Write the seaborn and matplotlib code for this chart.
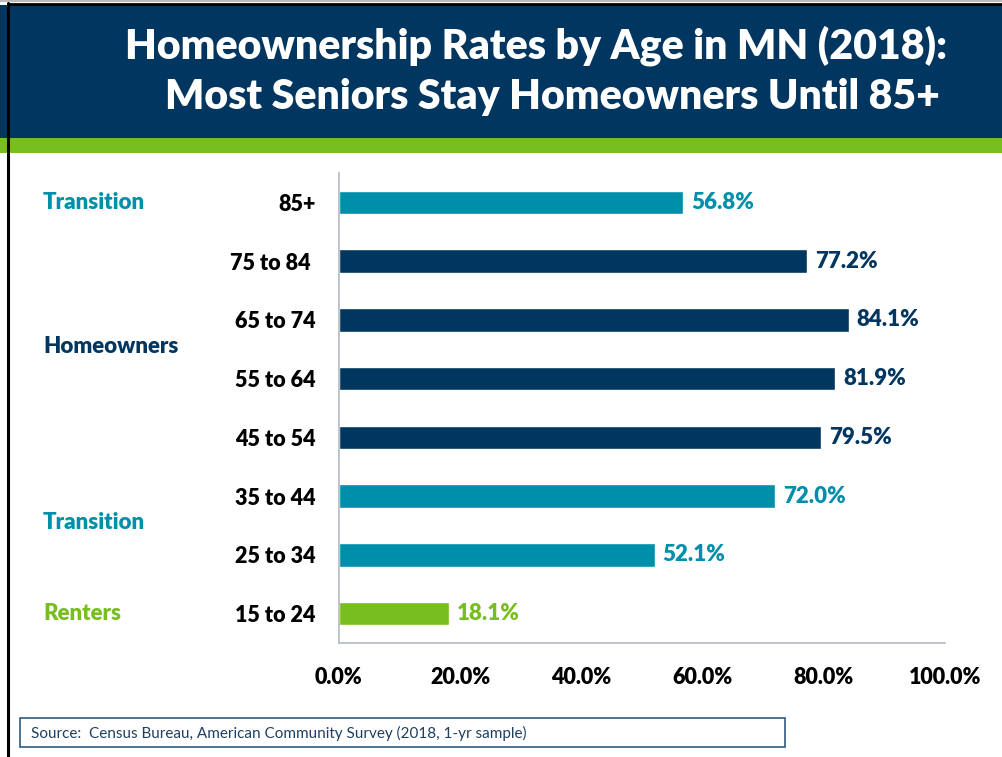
import matplotlib
matplotlib.use("Agg")
import matplotlib.pyplot as plt
import matplotlib.transforms as mtransforms
from matplotlib.patches import Rectangle
from matplotlib.lines import Line2D
import seaborn as sns
import pandas as pd

# --- data -------------------------------------------------------------
age_groups = ["85+", "75 to 84 ", "65 to 74", "55 to 64", "45 to 54",
              "35 to 44", "25 to 34", "15 to 24"]
ownership_rate = [56.8, 77.2, 84.1, 81.9, 79.5, 72.0, 52.1, 18.1]
stage = ["Transition", "Homeowners", "Homeowners", "Homeowners", "Homeowners",
         "Transition", "Transition", "Renters"]
x_ticks = [0, 20, 40, 60, 80, 100]
x_tick_labels = ["0.0%", "20.0%", "40.0%", "60.0%", "80.0%", "100.0%"]

# stage labels on the left and the row they sit beside
stage_labels = ["Transition", "Homeowners", "Transition", "Renters"]
stage_label_rows = [0.0, 2.45, 5.45, 7.0]

NAVY = "#00365F"
TEAL = "#008FAB"
GREEN = "#78BE21"
stage_colors = {"Transition": TEAL, "Homeowners": NAVY, "Renters": GREEN}
HEAVY = "heavy"

df = pd.DataFrame({"age": age_groups, "rate": ownership_rate, "stage": stage})

sns.set_theme(style="white")
plt.rcParams["font.family"] = ["Lato", "DejaVu Sans"]

fig = plt.figure(figsize=(10.03, 7.57), dpi=100)
fig.patch.set_facecolor("white")

# header band and accent stripe
fig.add_artist(Rectangle((0, 1 - 138 / 757), 1, (138 - 5) / 757,
                         transform=fig.transFigure, facecolor="#003660",
                         edgecolor="none", zorder=0))
fig.add_artist(Rectangle((0, 1 - 153 / 757), 1, 15 / 757,
                         transform=fig.transFigure, facecolor=GREEN,
                         edgecolor="none", zorder=0))
# slide frame
fig.add_artist(Line2D([8 / 1003, 8 / 1003], [0, 1 - 3 / 757],
                      transform=fig.transFigure, color="black", lw=2.2))
fig.add_artist(Line2D([8 / 1003, 1], [1 - 4 / 757, 1 - 4 / 757],
                      transform=fig.transFigure, color="black", lw=2))
fig.add_artist(Line2D([0, 1], [1 - 1 / 757, 1 - 1 / 757],
                      transform=fig.transFigure, color="#BBBBBB", lw=1.5))

fig.text(0.944, 1 - 46 / 757, "Homeownership Rates by Age in MN (2018):",
         ha="right", va="center", color="white", fontsize=29.5,
         fontweight=HEAVY)
fig.text(0.937, 1 - 97 / 757, "Most Seniors Stay Homeowners Until 85+",
         ha="right", va="center", color="white", fontsize=29.5,
         fontweight=HEAVY)

ax = fig.add_axes([339 / 1003, 114 / 757, (945 - 339) / 1003, (643 - 173) / 757])
sns.barplot(data=df, y="age", x="rate", hue="stage", palette=stage_colors,
            order=age_groups, dodge=False, width=0.4, legend=False,
            saturation=1, ax=ax)

ax.set_xlim(0, 100)
ax.set_ylim(len(age_groups) - 0.5, -0.5)
ax.set_xlabel("")
ax.set_ylabel("")
ax.set_xticks(x_ticks)
ax.set_xticklabels(x_tick_labels, fontsize=15.5, fontweight=HEAVY, color="black")
ax.set_yticks(range(len(age_groups)))
ax.set_yticklabels(age_groups, fontsize=15.5, fontweight=HEAVY, color="black")
ax.set_yticks([i - 0.5 for i in range(len(age_groups) + 1)], minor=True)
ax.tick_params(axis="y", which="major", length=0, pad=17)
ax.tick_params(axis="y", which="minor", length=8, color="#8C96A6", width=1)
ax.tick_params(axis="x", which="major", length=7, color="#8C96A6", width=1,
               pad=10)
for side in ["top", "right"]:
    ax.spines[side].set_visible(False)
for side in ["left", "bottom"]:
    ax.spines[side].set_color("#B4BAC4")
    ax.spines[side].set_linewidth(1.2)

# value labels
for i, (val, st) in enumerate(zip(ownership_rate, stage)):
    ax.text(val + 1.3, i, f"{val:.1f}%", ha="left", va="center",
            fontsize=16, fontweight=HEAVY, color=stage_colors[st])

# stage labels at left
trans = mtransforms.blended_transform_factory(fig.transFigure, ax.transData)
for lab, row in zip(stage_labels, stage_label_rows):
    ax.text(43 / 1003, row, lab, transform=trans, ha="left", va="center",
            fontsize=16, fontweight=HEAVY, color=stage_colors[lab],
            clip_on=False)

# source box
fig.add_artist(Rectangle((20 / 1003, 1 - 747 / 757), (785 - 20) / 1003,
                         29 / 757, transform=fig.transFigure,
                         facecolor="white", edgecolor="#2E5A80", lw=1.2))
fig.text(31 / 1003, 1 - 733 / 757,
         "Source:  Census Bureau, American Community Survey (2018, 1-yr sample)",
         ha="left", va="center", fontsize=11, color="#1F3F60")

fig.savefig("out.png", dpi=100)
